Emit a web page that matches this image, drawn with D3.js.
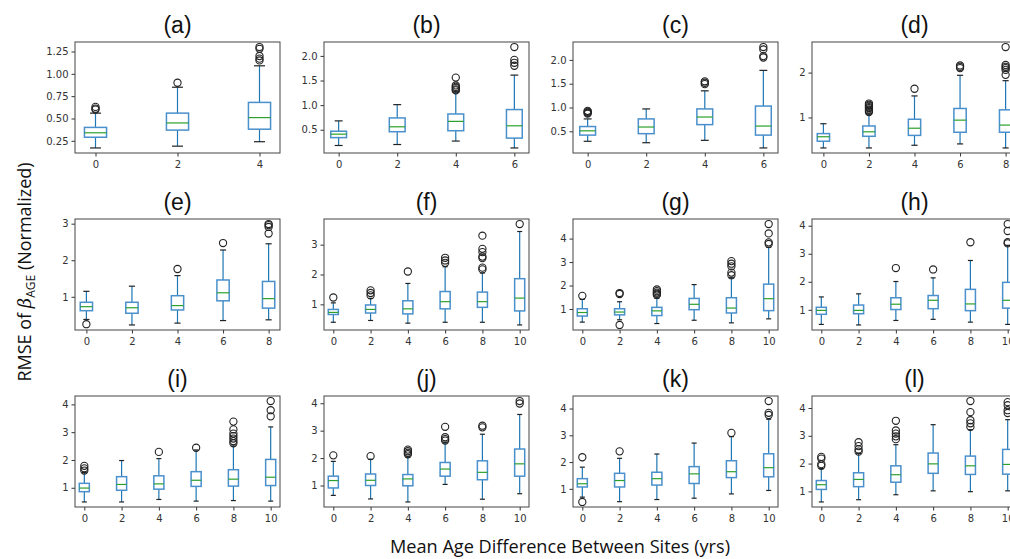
<!DOCTYPE html>
<html>
<head>
<meta charset="utf-8">
<script src="https://cdn.jsdelivr.net/npm/d3@7"></script>
<style>
  body { margin: 0; background: #fff; }
  svg { display: block; }
</style>
</head>
<body>
<svg id="chart" width="1010" height="559"></svg>
<script>
// ---- Data: each box is [lower whisker, Q1, median, Q3, upper whisker] ----
const panelLabels = ["(a)", "(b)", "(c)", "(d)", "(e)", "(f)", "(g)", "(h)", "(i)", "(j)", "(k)", "(l)"];

const catsA = [0, 2, 4];
const catsB = [0, 2, 4, 6];
const catsC = [0, 2, 4, 6];
const catsD = [0, 2, 4, 6, 8];
const catsE = [0, 2, 4, 6, 8];
const catsF = [0, 2, 4, 6, 8, 10];
const catsG = [0, 2, 4, 6, 8, 10];
const catsH = [0, 2, 4, 6, 8, 10];
const catsI = [0, 2, 4, 6, 8, 10];
const catsJ = [0, 2, 4, 6, 8, 10];
const catsK = [0, 2, 4, 6, 8, 10];
const catsL = [0, 2, 4, 6, 8, 10];

const boxesA = [[0.17,0.29,0.34,0.40,0.56],[0.19,0.37,0.45,0.56,0.85],[0.24,0.38,0.51,0.68,1.09]];
const outliersA = [[0.60,0.61,0.63],[0.90],[1.15,1.17,1.20,1.28,1.30]];

const boxesB = [[0.18,0.34,0.41,0.47,0.68],[0.20,0.46,0.56,0.74,1.01],[0.27,0.48,0.67,0.82,1.27],[0.13,0.33,0.58,0.91,1.61]];
const outliersB = [[],[],[1.30,1.32,1.35,1.37,1.40,1.56],[1.80,1.86,1.92,2.18]];

const boxesC = [[0.29,0.42,0.51,0.60,0.76],[0.26,0.45,0.59,0.76,0.97],[0.31,0.64,0.80,0.97,1.35],[0.15,0.42,0.61,1.03,1.78]];
const outliersC = [[0.87,0.89,0.91,0.93],[],[1.49,1.52,1.55],[2.05,2.08,2.22,2.27]];

const boxesD = [[0.32,0.47,0.57,0.64,0.86],[0.32,0.58,0.68,0.81,1.08],[0.38,0.60,0.76,0.96,1.48],[0.41,0.67,0.94,1.20,1.94],[0.32,0.67,0.83,1.17,1.82]];
const outliersD = [[],[1.12,1.15,1.18,1.21,1.23,1.26,1.28,1.31],[1.64],[2.10,2.13,2.16],[1.95,2.06,2.10,2.13,2.17,2.57]];

const boxesE = [[0.38,0.62,0.73,0.85,1.15],[0.23,0.55,0.70,0.85,1.29],[0.28,0.64,0.76,1.03,1.58],[0.35,0.89,1.11,1.46,2.28],[0.37,0.69,0.95,1.42,2.45]];
const outliersE = [[0.25],[],[1.76],[2.47],[2.73,2.91,2.96,2.99]];

const boxesF = [[0.40,0.66,0.73,0.83,1.05],[0.46,0.71,0.83,0.98,1.20],[0.37,0.68,0.85,1.12,1.70],[0.40,0.85,1.09,1.43,2.26],[0.40,0.90,1.09,1.41,2.05],[0.31,0.78,1.21,1.86,3.44]];
const outliersF = [[1.23],[1.30,1.38,1.47],[2.10],[2.39,2.47,2.56],[2.17,2.23,2.55,2.60,2.75,2.86,3.30],[3.69]];

const boxesG = [[0.44,0.70,0.85,1.01,1.41],[0.54,0.75,0.87,1.01,1.31],[0.38,0.72,0.92,1.07,1.45],[0.52,0.97,1.20,1.45,2.04],[0.41,0.83,1.04,1.48,2.35],[0.58,0.93,1.44,2.06,3.63]];
const outliersG = [[1.56],[0.32,1.64,1.68],[1.60,1.65,1.70,1.76,1.83],[],[2.44,2.55,2.82,2.93,3.04],[3.77,3.84,4.22,4.62]];

const boxesH = [[0.48,0.84,0.98,1.09,1.46],[0.46,0.86,0.98,1.17,1.57],[0.62,1.01,1.20,1.43,2.01],[0.66,1.04,1.34,1.51,2.14],[0.56,0.97,1.21,1.73,2.76],[0.48,1.06,1.34,1.98,3.30]];
const outliersH = [[],[],[2.49],[2.44],[3.41],[3.37,3.41,3.81,4.06]];

const boxesI = [[0.49,0.86,0.99,1.16,1.55],[0.49,0.91,1.12,1.40,1.98],[0.58,0.95,1.14,1.43,2.05],[0.52,1.05,1.27,1.58,2.36],[0.54,1.06,1.31,1.65,2.54],[0.52,1.08,1.38,2.02,3.19]];
const outliersI = [[1.62,1.70,1.79],[],[2.29],[2.44],[2.60,2.68,2.77,2.86,2.95,3.10,3.38],[3.57,3.79,4.12]];

const boxesJ = [[0.64,0.91,1.18,1.34,1.88],[0.51,1.00,1.19,1.42,1.96],[0.40,0.99,1.24,1.40,2.04],[1.04,1.34,1.60,1.84,2.58],[0.50,1.21,1.48,1.90,2.87],[0.70,1.34,1.79,2.33,3.59]];
const outliersJ = [[2.10],[2.07],[2.14,2.19,2.25,2.31],[2.64,2.69,2.76,3.14],[3.12,3.18],[3.99,4.08]];

const boxesK = [[0.69,1.07,1.19,1.38,1.81],[0.52,1.07,1.31,1.58,2.14],[0.60,1.14,1.38,1.62,2.30],[0.65,1.20,1.56,1.83,2.71],[0.81,1.42,1.64,2.05,2.95],[0.94,1.45,1.79,2.31,3.60]];
const outliersK = [[0.51,2.18],[2.40],[],[],[3.09],[3.76,3.84,4.28]];

const boxesL = [[0.62,1.07,1.24,1.39,1.82],[0.70,1.17,1.43,1.67,2.36],[0.88,1.33,1.60,1.92,2.68],[1.02,1.65,1.99,2.38,3.40],[0.99,1.61,1.92,2.27,3.22],[1.02,1.62,1.97,2.51,3.58]];
const outliersL = [[1.92,1.98,2.18,2.24],[2.43,2.51,2.63,2.77],[2.88,2.98,3.08,3.19,3.54],[],[3.32,3.45,3.56,3.85,4.25],[3.82,3.92,4.10,4.21]];

// y tick values for each panel
const yTicksA = [0.25, 0.50, 0.75, 1.00, 1.25];
const yTicksB = [0.5, 1.0, 1.5, 2.0];
const yTicksC = [0.5, 1.0, 1.5, 2.0];
const yTicksD = [1, 2];
const yTicksE = [1, 2, 3];
const yTicksF = [1, 2, 3];
const yTicksG = [1, 2, 3, 4];
const yTicksH = [1, 2, 3, 4];
const yTicksI = [1, 2, 3, 4];
const yTicksJ = [1, 2, 3, 4];
const yTicksK = [1, 2, 3, 4];
const yTicksL = [1, 2, 3, 4];

const xAxisTitle = "Mean Age Difference Between Sites (yrs)";

const panels = [
  { cats: catsA, boxes: boxesA, outliers: outliersA, ticks: yTicksA, fmt: ".2f" },
  { cats: catsB, boxes: boxesB, outliers: outliersB, ticks: yTicksB, fmt: ".1f" },
  { cats: catsC, boxes: boxesC, outliers: outliersC, ticks: yTicksC, fmt: ".1f" },
  { cats: catsD, boxes: boxesD, outliers: outliersD, ticks: yTicksD, fmt: "d" },
  { cats: catsE, boxes: boxesE, outliers: outliersE, ticks: yTicksE, fmt: "d" },
  { cats: catsF, boxes: boxesF, outliers: outliersF, ticks: yTicksF, fmt: "d" },
  { cats: catsG, boxes: boxesG, outliers: outliersG, ticks: yTicksG, fmt: "d" },
  { cats: catsH, boxes: boxesH, outliers: outliersH, ticks: yTicksH, fmt: "d" },
  { cats: catsI, boxes: boxesI, outliers: outliersI, ticks: yTicksI, fmt: "d" },
  { cats: catsJ, boxes: boxesJ, outliers: outliersJ, ticks: yTicksJ, fmt: "d" },
  { cats: catsK, boxes: boxesK, outliers: outliersK, ticks: yTicksK, fmt: "d" },
  { cats: catsL, boxes: boxesL, outliers: outliersL, ticks: yTicksL, fmt: "d" }
].map((p, i) => Object.assign(p, { label: panelLabels[i] }));

// ---- Layout ----
const colLeft = [75, 324, 573, 812];
const rowTop = [42, 219, 396];
const panelW = 205, panelH = 111;

const svg = d3.select("#chart");
const tickFont = "'DejaVu Sans', sans-serif";

panels.forEach((p, i) => {
  const r = Math.floor(i / 4), c = i % 4;
  const g = svg.append("g").attr("transform", `translate(${colLeft[c]},${rowTop[r]})`);

  const x = d3.scalePoint().domain(p.cats).range([0, panelW]).padding(0.25);

  // y domain with 5% margins around all drawn values
  const all = p.boxes.flat().concat(p.outliers.flat());
  const lo = d3.min(all), hi = d3.max(all), pad = (hi - lo) * 0.05;
  const y = d3.scaleLinear().domain([lo - pad, hi + pad]).range([panelH, 0]);

  const bw = x.step() * 0.27;
  const cw = bw / 2;

  const boxG = g.selectAll("g.box").data(p.boxes).join("g")
    .attr("class", "box")
    .attr("transform", (d, k) => `translate(${x(p.cats[k])},0)`);

  // whiskers
  boxG.append("line").attr("x1", 0).attr("x2", 0)
    .attr("y1", d => y(d[0])).attr("y2", d => y(d[1]))
    .attr("stroke", "#1f77b4").attr("stroke-width", 1.2);
  boxG.append("line").attr("x1", 0).attr("x2", 0)
    .attr("y1", d => y(d[3])).attr("y2", d => y(d[4]))
    .attr("stroke", "#1f77b4").attr("stroke-width", 1.2);
  // caps
  boxG.append("line").attr("x1", -cw / 2).attr("x2", cw / 2)
    .attr("y1", d => y(d[0])).attr("y2", d => y(d[0]))
    .attr("stroke", "#222").attr("stroke-width", 1.2);
  boxG.append("line").attr("x1", -cw / 2).attr("x2", cw / 2)
    .attr("y1", d => y(d[4])).attr("y2", d => y(d[4]))
    .attr("stroke", "#222").attr("stroke-width", 1.2);
  // box
  boxG.append("rect").attr("x", -bw / 2).attr("width", bw)
    .attr("y", d => y(d[3])).attr("height", d => y(d[1]) - y(d[3]))
    .attr("fill", "none").attr("stroke", "#4a90cc").attr("stroke-width", 1.5);
  // median
  boxG.append("line").attr("x1", -bw / 2).attr("x2", bw / 2)
    .attr("y1", d => y(d[2])).attr("y2", d => y(d[2]))
    .attr("stroke", "#2ca02c").attr("stroke-width", 1.2);

  // outliers
  boxG.each(function (d, k) {
    d3.select(this).selectAll("circle").data(p.outliers[k]).join("circle")
      .attr("cx", 0).attr("cy", v => y(v)).attr("r", 3.6)
      .attr("fill", "none").attr("stroke", "#222").attr("stroke-width", 1.1);
  });

  // axes
  const yAxis = g.append("g")
    .call(d3.axisLeft(y).tickValues(p.ticks).tickFormat(d3.format(p.fmt)).tickSize(3.5).tickPadding(3));
  const xAxis = g.append("g").attr("transform", `translate(0,${panelH})`)
    .call(d3.axisBottom(x).tickSize(3.5).tickPadding(4));
  [yAxis, xAxis].forEach(a => {
    a.select(".domain").remove();
    a.selectAll(".tick line").attr("stroke", "#333").attr("stroke-width", 1);
    a.selectAll(".tick text").attr("fill", "#333")
      .style("font-family", tickFont).style("font-size", "10px");
  });

  // frame
  g.append("rect").attr("width", panelW).attr("height", panelH)
    .attr("fill", "none").attr("stroke", "#444").attr("stroke-width", 1);

  // panel title
  g.append("text").attr("x", panelW / 2).attr("y", -9)
    .attr("text-anchor", "middle")
    .style("font-family", "'Liberation Sans', Arial, sans-serif")
    .style("font-size", "23px").attr("fill", "#111")
    .text(p.label);
});

// shared y axis title
const yTitle = svg.append("text")
  .attr("transform", "translate(31,272) rotate(-90)")
  .attr("text-anchor", "middle")
  .style("font-family", "'Open Sans', sans-serif")
  .style("font-size", "18px").attr("fill", "#111");
yTitle.append("tspan").text("RMSE of ");
yTitle.append("tspan").style("font-family", "'DejaVu Serif', serif").style("font-style", "italic").text("β");
yTitle.append("tspan").attr("dy", 4).style("font-size", "12px").text("AGE");
yTitle.append("tspan").attr("dy", -4).text(" (Normalized)");

// shared x axis title
svg.append("text")
  .attr("x", 560).attr("y", 553)
  .attr("text-anchor", "middle")
  .style("font-family", "'Open Sans', sans-serif")
  .style("font-size", "18px").attr("fill", "#111")
  .attr("textLength", 340).attr("lengthAdjust", "spacingAndGlyphs")
  .text(xAxisTitle);
</script>
</body>
</html>
